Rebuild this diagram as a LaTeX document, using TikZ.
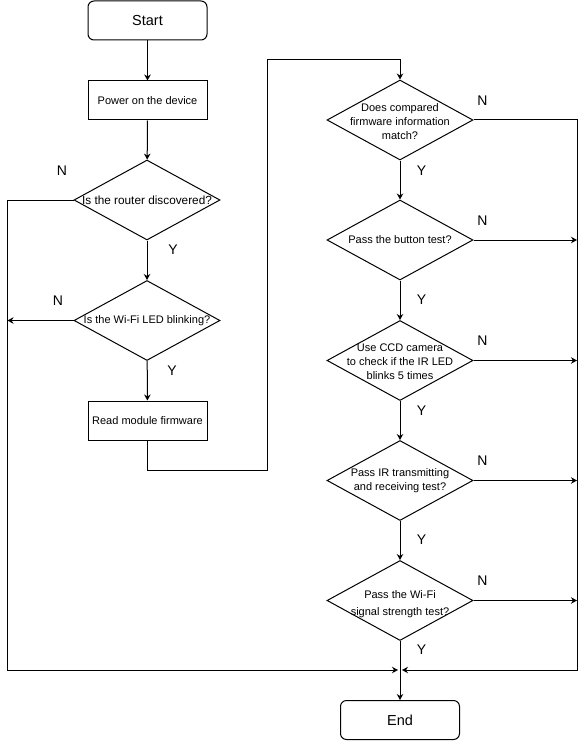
\documentclass[tikz,border=0pt]{standalone}
\usepackage{fontspec}
\setmainfont{Liberation Sans}
\usetikzlibrary{arrows.meta,shapes.geometric}
\begin{document}
\begin{tikzpicture}[x=1pt,y=-1pt, line width=1pt,
  >={Stealth[length=6pt,width=6.5pt]},
  term/.style={draw, rounded corners=6pt, minimum width=119pt, minimum height=39pt, inner sep=0pt, font=\fontsize{14.5}{17}\selectfont},
  proc/.style={draw, minimum width=119pt, minimum height=39pt, inner sep=0pt, font=\fontsize{11}{14}\selectfont},
  dia/.style={draw, diamond, minimum width=146pt, minimum height=80pt, inner sep=0pt},
  dtext/.style={align=center, inner sep=0pt, font=\fontsize{11}{14}\selectfont},
  yn/.style={inner sep=0pt, font=\fontsize{14}{16}\selectfont},
  conn/.style={->}]
\useasboundingbox (0,0) rectangle (585,741);

% nodes
\node[term] (start) at (147.5,20.5) {Start};
\node[proc] (power) at (147.5,100.5) {Power on the device};
\node[dia] (d1) at (147,200) {};
\node[dtext, font=\fontsize{11.8}{14}\selectfont] (t1) at (147,200) {Is the router discovered?};
\node[dia] (d2) at (147,320.5) {};
\node[dtext] (t2) at (147,320.5) {Is the Wi-Fi LED blinking?};
\node[proc] (read) at (147.5,420.5) {Read module firmware};

\node[dia] (d3) at (400,120) {};
\node[dtext] (t3) at (400,121.5) {Does compared\\firmware information\\match?};
\node[dia] (d4) at (400,240) {};
\node[dtext] (t4) at (400,240) {Pass the button test?};
\node[dia] (d5) at (400,360.5) {};
\node[dtext] (t5) at (400,361.5) {Use CCD camera\\to check if the IR LED\\blinks 5 times};
\node[dia] (d6) at (400,480.5) {};
\node[dtext] (t6) at (400,481) {Pass IR transmitting\\and receiving test?};
\node[dia] (d7) at (400,600.5) {};
\node[dtext, font=\fontsize{11}{17.5}\selectfont] (t7) at (400,604) {Pass the Wi-Fi\\signal strength test?};
\node[term] (end) at (400,720) {End};

% helper coordinates
\coordinate (m) at (400,670);
\coordinate (lb) at (7.5,670);
\coordinate (rb) at (577,670);
\coordinate (b1) at (267,470);
\coordinate (b2) at (400,60);

% connectors
\draw[conn] (start) -- (power);
\draw[conn] (power) -- (d1);
\draw[conn] (d1) -- (d2);
\draw[conn] (d2) -- (read);
\draw[conn] (read.south) |- (b1) |- (b2) -- (d3.north);
\draw[conn] (d3) -- (d4);
\draw[conn] (d4) -- (d5);
\draw[conn] (d5) -- (d6);
\draw[conn] (d6) -- (d7);
\draw[conn] (d7) -- (end);

\draw[conn, shorten >=2pt] (d1.west) -| (lb) -- (m);
\draw[conn] (d2.west) -- (d2.west -| lb);
\draw[conn, shorten >=2pt] (d3.east) -| (rb) -- (m);
\draw[conn] (d4.east) -- (d4.east -| rb);
\draw[conn] (d5.east) -- (d5.east -| rb);
\draw[conn] (d6.east) -- (d6.east -| rb);
\draw[conn] (d7.east) -- (d7.east -| rb);

% labels
\node[yn] (n1) at (62,171) {N};
\node[yn] (y1) at (173,250) {Y};
\node[yn] (n2) at (58,300.5) {N};
\node[yn] (y2) at (172,371) {Y};
\node[yn] (n3) at (482.5,101) {N};
\node[yn] (y3) at (421.5,171) {Y};
\node[yn] (n4) at (482.5,221) {N};
\node[yn] (y4) at (421.5,299.5) {Y};
\node[yn] (n5) at (482.5,341) {N};
\node[yn] (y5) at (421.5,410.5) {Y};
\node[yn] (n6) at (482.5,461) {N};
\node[yn] (y6) at (421.5,539.5) {Y};
\node[yn] (n7) at (482.5,580.5) {N};
\node[yn] (y7) at (421.5,650) {Y};
\end{tikzpicture}
\end{document}
